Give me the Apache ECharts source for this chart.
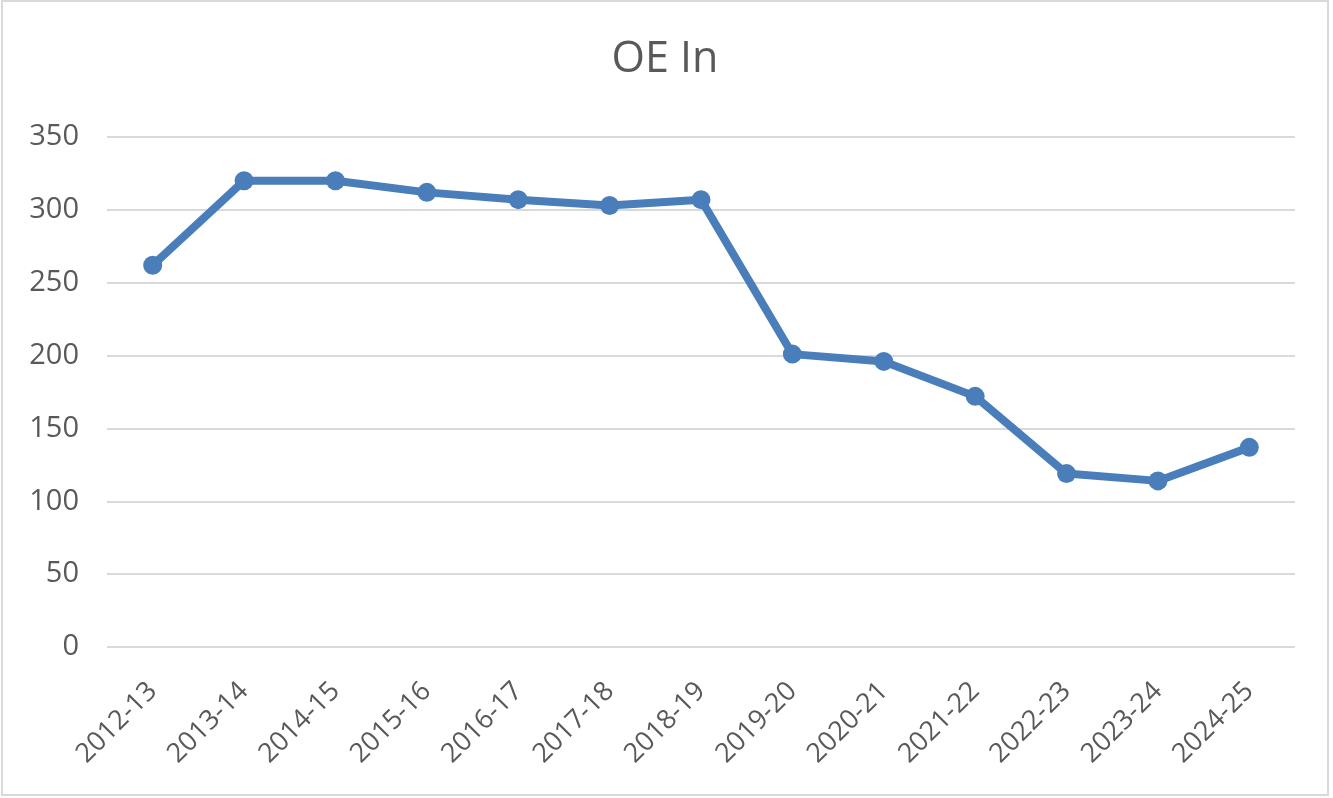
<!DOCTYPE html>
<html>
<head>
<meta charset="utf-8">
<script src="https://cdn.jsdelivr.net/npm/echarts@6/dist/echarts.min.js"></script>
<style>
  html, body { margin: 0; padding: 0; background: #fff; }
  #chart { position: absolute; left: 1px; top: 0; width: 1328px; height: 796px; box-sizing: border-box; border: 2px solid #d9d9d9; }
</style>
</head>
<body>
<div id="chart"></div>
<script>
const categories = ['2012-13', '2013-14', '2014-15', '2015-16', '2016-17', '2017-18', '2018-19',
  '2019-20', '2020-21', '2021-22', '2022-23', '2023-24', '2024-25']
const oeIn = [262, 320, 320, 312, 307, 303, 307, 201, 196, 172, 119, 114, 137]
const yTicks = [0, 50, 100, 150, 200, 250, 300, 350]

const chart = echarts.init(document.getElementById('chart'))
const option = {
  title: {
    text: 'OE In',
    left: 'center',
    top: 31,
    textStyle: {
      color: '#595959',
      fontSize: 43,
      fontWeight: 'normal',
      fontFamily: 'Open Sans'
    }
  },
  grid: {
    left: 104,
    right: 32,
    top: 135,
    bottom: 147
  },
  xAxis: {
    type: 'category',
    data: categories,
    boundaryGap: true,
    axisLine: { show: false },
    axisTick: { show: false },
    axisLabel: {
      rotate: 45,
      margin: 40,
      color: '#595959',
      fontSize: 27,
      fontFamily: 'Open Sans'
    }
  },
  yAxis: {
    type: 'value',
    min: yTicks[0],
    max: yTicks[yTicks.length - 1],
    interval: 50,
    axisLine: { show: false },
    axisTick: { show: false },
    splitLine: { lineStyle: { color: '#d9d9d9', width: 2 } },
    axisLabel: {
      margin: 28,
      color: '#595959',
      fontSize: 29,
      fontFamily: 'Open Sans'
    }
  },
  series: [{
    name: 'OE In',
    type: 'line',
    data: oeIn,
    symbol: 'circle',
    symbolSize: 19,
    lineStyle: { color: '#4a7ebb', width: 8 },
    itemStyle: { color: '#4a7ebb' }
  }]
}
chart.setOption(option)
</script>
</body>
</html>
